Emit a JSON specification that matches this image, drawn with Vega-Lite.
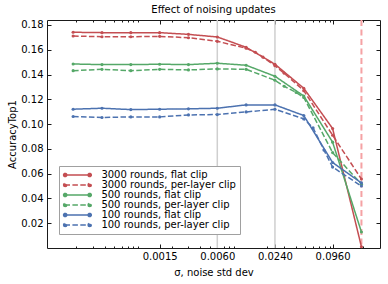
{
  "$schema": "https://vega.github.io/schema/vega-lite/v6.json",
  "width": 333,
  "height": 228,
  "autosize": "none",
  "padding": {"left": 47, "top": 20, "right": 8, "bottom": 36},
  "title": {"text": "Effect of noising updates", "fontSize": 10, "fontWeight": "normal", "font": "DejaVu Sans", "offset": 4, "anchor": "middle", "color": "#000"},
  "datasets": {
    "main": [
      {"s": 0.0001875, "acc": 0.1741, "series": "3000 rounds, flat clip"},
      {"s": 0.000375, "acc": 0.1738, "series": "3000 rounds, flat clip"},
      {"s": 0.00075, "acc": 0.1738, "series": "3000 rounds, flat clip"},
      {"s": 0.0015, "acc": 0.1738, "series": "3000 rounds, flat clip"},
      {"s": 0.003, "acc": 0.1724, "series": "3000 rounds, flat clip"},
      {"s": 0.006, "acc": 0.1703, "series": "3000 rounds, flat clip"},
      {"s": 0.012, "acc": 0.1620, "series": "3000 rounds, flat clip"},
      {"s": 0.024, "acc": 0.1483, "series": "3000 rounds, flat clip"},
      {"s": 0.048, "acc": 0.1289, "series": "3000 rounds, flat clip"},
      {"s": 0.096, "acc": 0.0964, "series": "3000 rounds, flat clip"},
      {"s": 0.192, "acc": 0.001, "series": "3000 rounds, flat clip"},

      {"s": 0.0001875, "acc": 0.1711, "series": "3000 rounds, per-layer clip"},
      {"s": 0.000375, "acc": 0.1705, "series": "3000 rounds, per-layer clip"},
      {"s": 0.00075, "acc": 0.1705, "series": "3000 rounds, per-layer clip"},
      {"s": 0.0015, "acc": 0.1708, "series": "3000 rounds, per-layer clip"},
      {"s": 0.003, "acc": 0.1697, "series": "3000 rounds, per-layer clip"},
      {"s": 0.006, "acc": 0.1668, "series": "3000 rounds, per-layer clip"},
      {"s": 0.012, "acc": 0.1612, "series": "3000 rounds, per-layer clip"},
      {"s": 0.015, "acc": 0.1580, "series": "3000 rounds, per-layer clip"},
      {"s": 0.018, "acc": 0.1540, "series": "3000 rounds, per-layer clip"},
      {"s": 0.024, "acc": 0.1471, "series": "3000 rounds, per-layer clip"},
      {"s": 0.03, "acc": 0.1410, "series": "3000 rounds, per-layer clip"},
      {"s": 0.048, "acc": 0.1270, "series": "3000 rounds, per-layer clip"},
      {"s": 0.096, "acc": 0.0910, "series": "3000 rounds, per-layer clip"},
      {"s": 0.192, "acc": 0.0556, "series": "3000 rounds, per-layer clip"},

      {"s": 0.0001875, "acc": 0.1485, "series": "500 rounds, flat clip"},
      {"s": 0.000375, "acc": 0.1480, "series": "500 rounds, flat clip"},
      {"s": 0.00075, "acc": 0.1480, "series": "500 rounds, flat clip"},
      {"s": 0.0015, "acc": 0.1483, "series": "500 rounds, flat clip"},
      {"s": 0.003, "acc": 0.1480, "series": "500 rounds, flat clip"},
      {"s": 0.006, "acc": 0.1491, "series": "500 rounds, flat clip"},
      {"s": 0.012, "acc": 0.1475, "series": "500 rounds, flat clip"},
      {"s": 0.024, "acc": 0.1386, "series": "500 rounds, flat clip"},
      {"s": 0.048, "acc": 0.1227, "series": "500 rounds, flat clip"},
      {"s": 0.096, "acc": 0.0854, "series": "500 rounds, flat clip"},
      {"s": 0.192, "acc": 0.0129, "series": "500 rounds, flat clip"},

      {"s": 0.0001875, "acc": 0.1431, "series": "500 rounds, per-layer clip"},
      {"s": 0.000375, "acc": 0.1442, "series": "500 rounds, per-layer clip"},
      {"s": 0.00075, "acc": 0.1431, "series": "500 rounds, per-layer clip"},
      {"s": 0.0015, "acc": 0.1442, "series": "500 rounds, per-layer clip"},
      {"s": 0.003, "acc": 0.1437, "series": "500 rounds, per-layer clip"},
      {"s": 0.006, "acc": 0.1445, "series": "500 rounds, per-layer clip"},
      {"s": 0.012, "acc": 0.1442, "series": "500 rounds, per-layer clip"},
      {"s": 0.024, "acc": 0.1354, "series": "500 rounds, per-layer clip"},
      {"s": 0.03, "acc": 0.1305, "series": "500 rounds, per-layer clip"},
      {"s": 0.04, "acc": 0.1255, "series": "500 rounds, per-layer clip"},
      {"s": 0.048, "acc": 0.1215, "series": "500 rounds, per-layer clip"},
      {"s": 0.096, "acc": 0.0770, "series": "500 rounds, per-layer clip"},
      {"s": 0.192, "acc": 0.0515, "series": "500 rounds, per-layer clip"},

      {"s": 0.0001875, "acc": 0.1120, "series": "100 rounds, flat clip"},
      {"s": 0.000375, "acc": 0.1128, "series": "100 rounds, flat clip"},
      {"s": 0.00075, "acc": 0.1117, "series": "100 rounds, flat clip"},
      {"s": 0.0015, "acc": 0.1120, "series": "100 rounds, flat clip"},
      {"s": 0.003, "acc": 0.1123, "series": "100 rounds, flat clip"},
      {"s": 0.006, "acc": 0.1128, "series": "100 rounds, flat clip"},
      {"s": 0.012, "acc": 0.1155, "series": "100 rounds, flat clip"},
      {"s": 0.024, "acc": 0.1155, "series": "100 rounds, flat clip"},
      {"s": 0.048, "acc": 0.1069, "series": "100 rounds, flat clip"},
      {"s": 0.096, "acc": 0.0690, "series": "100 rounds, flat clip"},
      {"s": 0.192, "acc": 0.0525, "series": "100 rounds, flat clip"},

      {"s": 0.0001875, "acc": 0.1061, "series": "100 rounds, per-layer clip"},
      {"s": 0.000375, "acc": 0.1053, "series": "100 rounds, per-layer clip"},
      {"s": 0.00075, "acc": 0.1058, "series": "100 rounds, per-layer clip"},
      {"s": 0.0015, "acc": 0.1058, "series": "100 rounds, per-layer clip"},
      {"s": 0.003, "acc": 0.1074, "series": "100 rounds, per-layer clip"},
      {"s": 0.006, "acc": 0.1077, "series": "100 rounds, per-layer clip"},
      {"s": 0.012, "acc": 0.1098, "series": "100 rounds, per-layer clip"},
      {"s": 0.024, "acc": 0.1120, "series": "100 rounds, per-layer clip"},
      {"s": 0.048, "acc": 0.1042, "series": "100 rounds, per-layer clip"},
      {"s": 0.06, "acc": 0.0970, "series": "100 rounds, per-layer clip"},
      {"s": 0.078, "acc": 0.0790, "series": "100 rounds, per-layer clip"},
      {"s": 0.096, "acc": 0.0653, "series": "100 rounds, per-layer clip"},
      {"s": 0.192, "acc": 0.0500, "series": "100 rounds, per-layer clip"}
    ]
  },
  "layer": [
    {
      "data": {"values": [{"s": 0.006}, {"s": 0.024}]},
      "mark": {"type": "rule", "color": "#cfcfcf", "strokeWidth": 1.5},
      "encoding": {
        "x": {"field": "s", "type": "quantitative", "scale": {"type": "log", "domain": [0.0001, 0.3], "nice": false}, "axis": null}
      }
    },
    {
      "data": {"values": [{"s": 0.192}]},
      "mark": {"type": "rule", "color": "#f5a2a4", "strokeWidth": 2, "strokeDash": [6, 3.5]},
      "encoding": {
        "x": {"field": "s", "type": "quantitative", "scale": {"type": "log", "domain": [0.0001, 0.3], "nice": false}, "axis": null}
      }
    },
    {
      "data": {"name": "main"},
      "mark": {"type": "line", "strokeWidth": 1.5, "point": {"filled": true, "size": 10}},
      "encoding": {
        "x": {
          "field": "s", "type": "quantitative",
          "scale": {"type": "log", "domain": [0.0001, 0.3], "nice": false},
          "axis": {
            "orient": "bottom",
            "values": [0.0002, 0.0003, 0.0004, 0.0005, 0.0006, 0.0007, 0.0008, 0.0009, 0.0015, 0.002, 0.003, 0.004, 0.005, 0.006, 0.007, 0.008, 0.009, 0.02, 0.024, 0.03, 0.04, 0.05, 0.06, 0.07, 0.08, 0.09, 0.096, 0.2],
            "labelExpr": "indexof([0.0015, 0.006, 0.024, 0.096], datum.value) >= 0 ? format(datum.value, '.4f') : ''",
            "tickSize": {"condition": {"test": "indexof([0.0015, 0.006, 0.024, 0.096], datum.value) >= 0", "value": -4}, "value": -2},
            "labelPadding": 7,
            "labelOverlap": false,
            "labelFlush": false,
            "labelBound": false,
            "title": "σ, noise std dev",
            "titlePadding": 4
          }
        },
        "y": {
          "field": "acc", "type": "quantitative",
          "scale": {"domain": [0, 0.184], "nice": false, "zero": false},
          "axis": {
            "orient": "left",
            "values": [0.02, 0.04, 0.06, 0.08, 0.1, 0.12, 0.14, 0.16, 0.18],
            "format": ".2f",
            "tickSize": -4,
            "labelPadding": 8,
            "title": "AccuracyTop1",
            "titlePadding": 3
          }
        },
        "color": {
          "field": "series", "type": "nominal",
          "scale": {
            "domain": ["3000 rounds, flat clip", "3000 rounds, per-layer clip", "500 rounds, flat clip", "500 rounds, per-layer clip", "100 rounds, flat clip", "100 rounds, per-layer clip"],
            "range": ["#c44e52", "#c44e52", "#55a868", "#55a868", "#4c72b0", "#4c72b0"]
          },
          "legend": {
            "title": null, "orient": "none", "legendX": 12, "legendY": 146,
            "symbolType": "M-1,0L6.43,0M-1.26,0a0.46,0.46 0 1,0 0.92,0a0.46,0.46 0 1,0 -0.92,0M5.74,0a0.46,0.46 0 1,0 0.92,0a0.46,0.46 0 1,0 -0.92,0",
            "symbolSize": 49, "symbolStrokeWidth": 1.5, "symbolOffset": 0,
            "labelFontSize": 10, "labelFont": "DejaVu Sans", "labelColor": "#000", "labelOffset": 28.4,
            "rowPadding": -0.5, "padding": 4, "fillColor": "#ffffff", "strokeColor": "#a0a0a0", "cornerRadius": 0,
            "encode": {"symbols": {"update": {"fill": {"scale": "color", "field": "value"}}}}
          }
        },
        "strokeDash": {
          "field": "series", "type": "nominal",
          "scale": {
            "domain": ["3000 rounds, flat clip", "3000 rounds, per-layer clip", "500 rounds, flat clip", "500 rounds, per-layer clip", "100 rounds, flat clip", "100 rounds, per-layer clip"],
            "range": [[1, 0], [5.5, 2.4], [1, 0], [5.5, 2.4], [1, 0], [5.5, 2.4]]
          },
          "legend": {
            "title": null, "orient": "none", "legendX": 12, "legendY": 146,
            "symbolType": "M-1,0L6.43,0M-1.26,0a0.46,0.46 0 1,0 0.92,0a0.46,0.46 0 1,0 -0.92,0M5.74,0a0.46,0.46 0 1,0 0.92,0a0.46,0.46 0 1,0 -0.92,0",
            "symbolSize": 49, "symbolStrokeWidth": 1.5, "symbolOffset": 0,
            "labelFontSize": 10, "labelFont": "DejaVu Sans", "labelColor": "#000", "labelOffset": 28.4,
            "rowPadding": -0.5, "padding": 4, "fillColor": "#ffffff", "strokeColor": "#a0a0a0", "cornerRadius": 0,
            "encode": {"symbols": {"update": {"fill": {"scale": "color", "field": "value"}}}}
          }
        }
      }
    },
    {
      "data": {"name": "main"},
      "mark": {"type": "point", "opacity": 0},
      "encoding": {
        "x": {
          "field": "s", "type": "quantitative",
          "scale": {"type": "log", "domain": [0.0001, 0.3], "nice": false},
          "axis": {
            "orient": "top",
            "values": [0.0002, 0.0003, 0.0004, 0.0005, 0.0006, 0.0007, 0.0008, 0.0009, 0.0015, 0.002, 0.003, 0.004, 0.005, 0.006, 0.007, 0.008, 0.009, 0.02, 0.024, 0.03, 0.04, 0.05, 0.06, 0.07, 0.08, 0.09, 0.096, 0.2],
            "labels": false,
            "tickSize": {"condition": {"test": "indexof([0.0015, 0.006, 0.024, 0.096], datum.value) >= 0", "value": -4}, "value": -2},
            "title": null
          }
        },
        "y": {
          "field": "acc", "type": "quantitative",
          "scale": {"domain": [0, 0.184], "nice": false, "zero": false},
          "axis": {
            "orient": "right",
            "values": [0.02, 0.04, 0.06, 0.08, 0.1, 0.12, 0.14, 0.16, 0.18],
            "labels": false,
            "tickSize": -4,
            "title": null
          }
        }
      }
    }
  ],
  "resolve": {"axis": {"x": "independent", "y": "independent"}},
  "config": {
    "font": "DejaVu Sans",
    "view": {"stroke": "#1a1a1a", "strokeWidth": 1},
    "axis": {
      "grid": false,
      "domain": false,
      "tickColor": "#1a1a1a",
      "tickWidth": 1,
      "labelFont": "DejaVu Sans",
      "labelFontSize": 10,
      "labelColor": "#000",
      "titleFont": "DejaVu Sans",
      "titleFontSize": 10,
      "titleFontWeight": "normal",
      "titleColor": "#000"
    }
  }
}
